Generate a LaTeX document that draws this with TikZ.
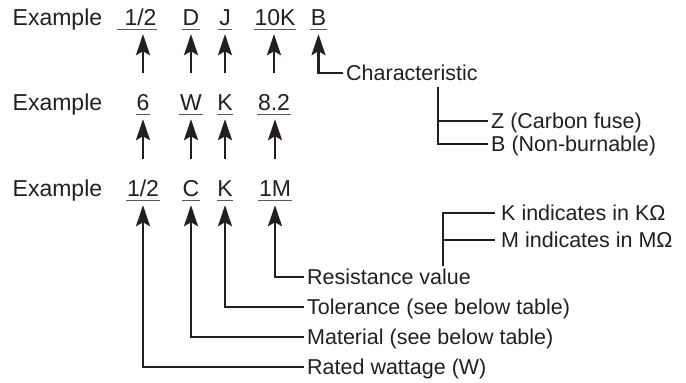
\documentclass[tikz,border=0pt]{standalone}
\usepackage{fontspec}
\setmainfont{Liberation Sans}
\usetikzlibrary{arrows.meta}
\definecolor{ink}{HTML}{231F20}
\definecolor{ulc}{HTML}{5A5A5A}
\begin{document}
\begin{tikzpicture}[x=1pt,y=-1pt,
  every node/.style={font=\fontsize{21.5}{24}\selectfont, text=ink, inner sep=0pt},
  big/.style={font=\fontsize{23}{26}\selectfont},
  code/.style={big, text height=16.5pt, text depth=3.5pt, inner xsep=0.6pt, anchor=base,
     append after command={(\tikzlastnode.south west) edge[draw=ulc, line width=1.4pt] (\tikzlastnode.south east)}},
  lbl/.style={anchor=west, text height=15.5pt, text depth=0pt, inner xsep=3pt},
  lblw/.style={lbl, inner xsep=6pt},
  conn/.style={draw=ink, line width=2.6pt},
  arr/.style={conn, -{Stealth[length=21pt,width=14pt,inset=4pt]}, shorten >=5pt},
]
\useasboundingbox (0,0) rectangle (686,383);

% row labels
\node[big, anchor=base west] (ex1) at (12.5,25.5) {Example};
\node[big, anchor=base west] (ex2) at (12.5,110.5) {Example};
\node[big, anchor=base west] (ex3) at (12.5,196.5) {Example};

% row 1
\node[code] (a1) at (137,25.5) {\hspace*{7pt}1/2};
\node[code] (b1) at (191,25.5) {D};
\node[code] (c1) at (225,25.5) {J};
\node[code] (d1) at (275,25.5) {10K};
\node[code] (e1) at (318.5,25.5) {B};
% row 2
\node[code] (a2) at (143,110.5) {6};
\node[code] (b2) at (191,110.5) {W};
\node[code] (c2) at (225,110.5) {K};
\node[code] (d2) at (274,110.5) {8.2};
% row 3
\node[code] (a3) at (143,196.5) {1/2};
\node[code] (b3) at (191,196.5) {C};
\node[code] (c3) at (225,196.5) {K};
\node[code] (d3) at (275,196.5) {1M};

% vertical arrows between rows
\foreach \l in {a,b,c,d} {
  \draw[arr, shorten <=21pt] (\l2.north) -- (\l2.north |- \l1.south);
  \draw[arr, shorten <=21pt] (\l3.north) -- (\l3.north |- \l2.south);
}

% characteristic
\node[lbl] (char) at (343,73) {Characteristic};
\draw[arr] (char.west) -| (e1.south);
\node[lbl] (zc) at (488,121) {Z (Carbon fuse)};
\node[lbl] (bn) at (488,144) {B (Non-burnable)};
\coordinate (chb) at (438,87);
\draw[conn] (chb) |- (zc.west);
\draw[conn] (chb) |- (bn.west);

% K / M
\node[lblw] (kt) at (495,213) {K indicates in KΩ};
\node[lblw] (mt) at (495,240) {M indicates in MΩ};
\coordinate (kmb) at (443,266);
\draw[conn] (kmb) |- (kt.west);
\draw[conn] (kmb) |- (mt.west);

% bottom labels
\node[lbl] (res) at (304,277) {Resistance value};
\node[lbl] (tol) at (304,307) {Tolerance (see below table)};
\node[lbl] (mat) at (304,337) {Material (see below table)};
\node[lbl] (rat) at (304,367) {Rated wattage (W)};
\draw[arr] (res.west) -| (d3.south);
\draw[arr] (tol.west) -| (c3.south);
\draw[arr] (mat.west) -| (b3.south);
\draw[arr] (rat.west) -| (a3.south);
\end{tikzpicture}
\end{document}
